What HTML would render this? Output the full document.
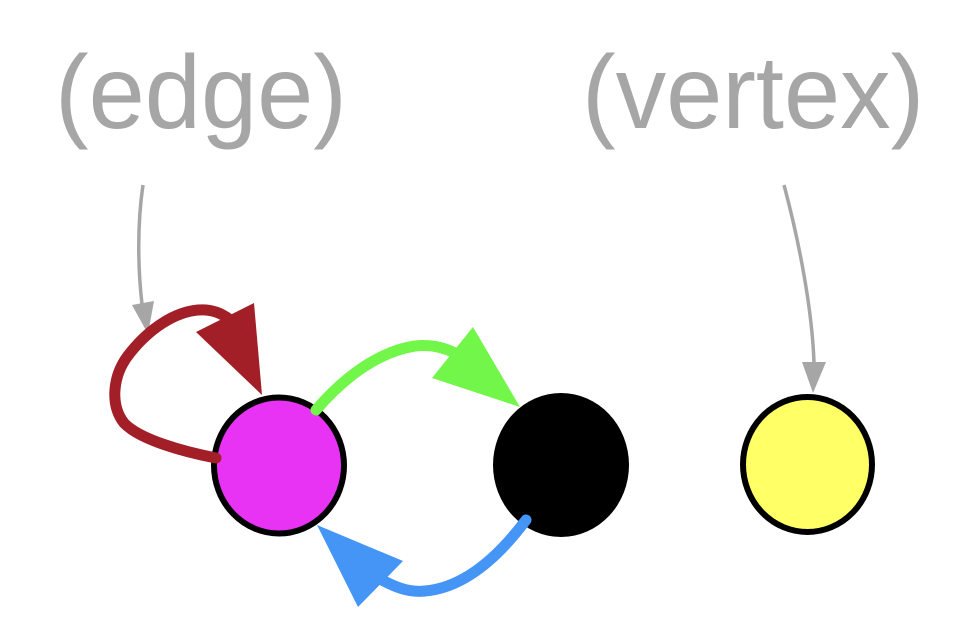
<!DOCTYPE html>
<html>
<head>
<meta charset="utf-8">
<style>
  html, body { margin: 0; padding: 0; background: #ffffff; }
  svg { display: block; }
</style>
</head>
<body>
<svg width="974" height="634" viewBox="0 0 974 634" xmlns="http://www.w3.org/2000/svg">
  <rect width="974" height="634" fill="#ffffff"/>

  <!-- labels -->
  <text x="55" y="128" font-family="'Liberation Sans', Arial, sans-serif" font-size="101" fill="#a6a6a6" transform="translate(0,-4) scale(1,1.03)">(edge)</text>
  <text x="582" y="128" font-family="'Liberation Sans', Arial, sans-serif" font-size="101" fill="#a6a6a6" transform="translate(0,-4) scale(1,1.03)">(vertex)</text>

  <!-- gray pointer arrows -->
  <path d="M143,185 C137,225 138,270 142,304" fill="none" stroke="#a6a6a6" stroke-width="3.5"/>
  <polygon points="132,305 154,301 148,334" fill="#a6a6a6"/>

  <path d="M784,185 C800,245 812,310 814,362" fill="none" stroke="#a6a6a6" stroke-width="3.5"/>
  <polygon points="802,362 826,362 813,393" fill="#a6a6a6"/>

  <!-- nodes -->
  <ellipse cx="279" cy="465.5" rx="65" ry="68" fill="#e833f5" stroke="#000" stroke-width="6"/>
  <ellipse cx="561" cy="465" rx="68" ry="72" fill="#000"/>
  <ellipse cx="807.5" cy="464.5" rx="64.5" ry="67.5" fill="#ffff66" stroke="#000" stroke-width="6"/>

  <!-- red self loop -->
  <path d="M216,458 C185,452 140,440 124,423 C110,405 112,375 130,353 C150,328 175,312 198,310 C210,309 220,312 229,319" fill="none" stroke="#a21f27" stroke-width="11" stroke-linecap="round"/>
  <polygon points="196,332 254,303 262,395" fill="#a21f27"/>

  <!-- green edge -->
  <path d="M316,410 C340,382 375,352 415,346 C432,344 445,348 455,353" fill="none" stroke="#72f64a" stroke-width="11" stroke-linecap="round"/>
  <polygon points="432,378 473,327 520,407" fill="#72f64a"/>

  <!-- blue edge -->
  <path d="M526,520 C505,548 470,587 425,591 C408,593 393,586 380,579" fill="none" stroke="#4595f7" stroke-width="11" stroke-linecap="round"/>
  <polygon points="403,561 358,607 317,525" fill="#4595f7"/>
</svg>
</body>
</html>
